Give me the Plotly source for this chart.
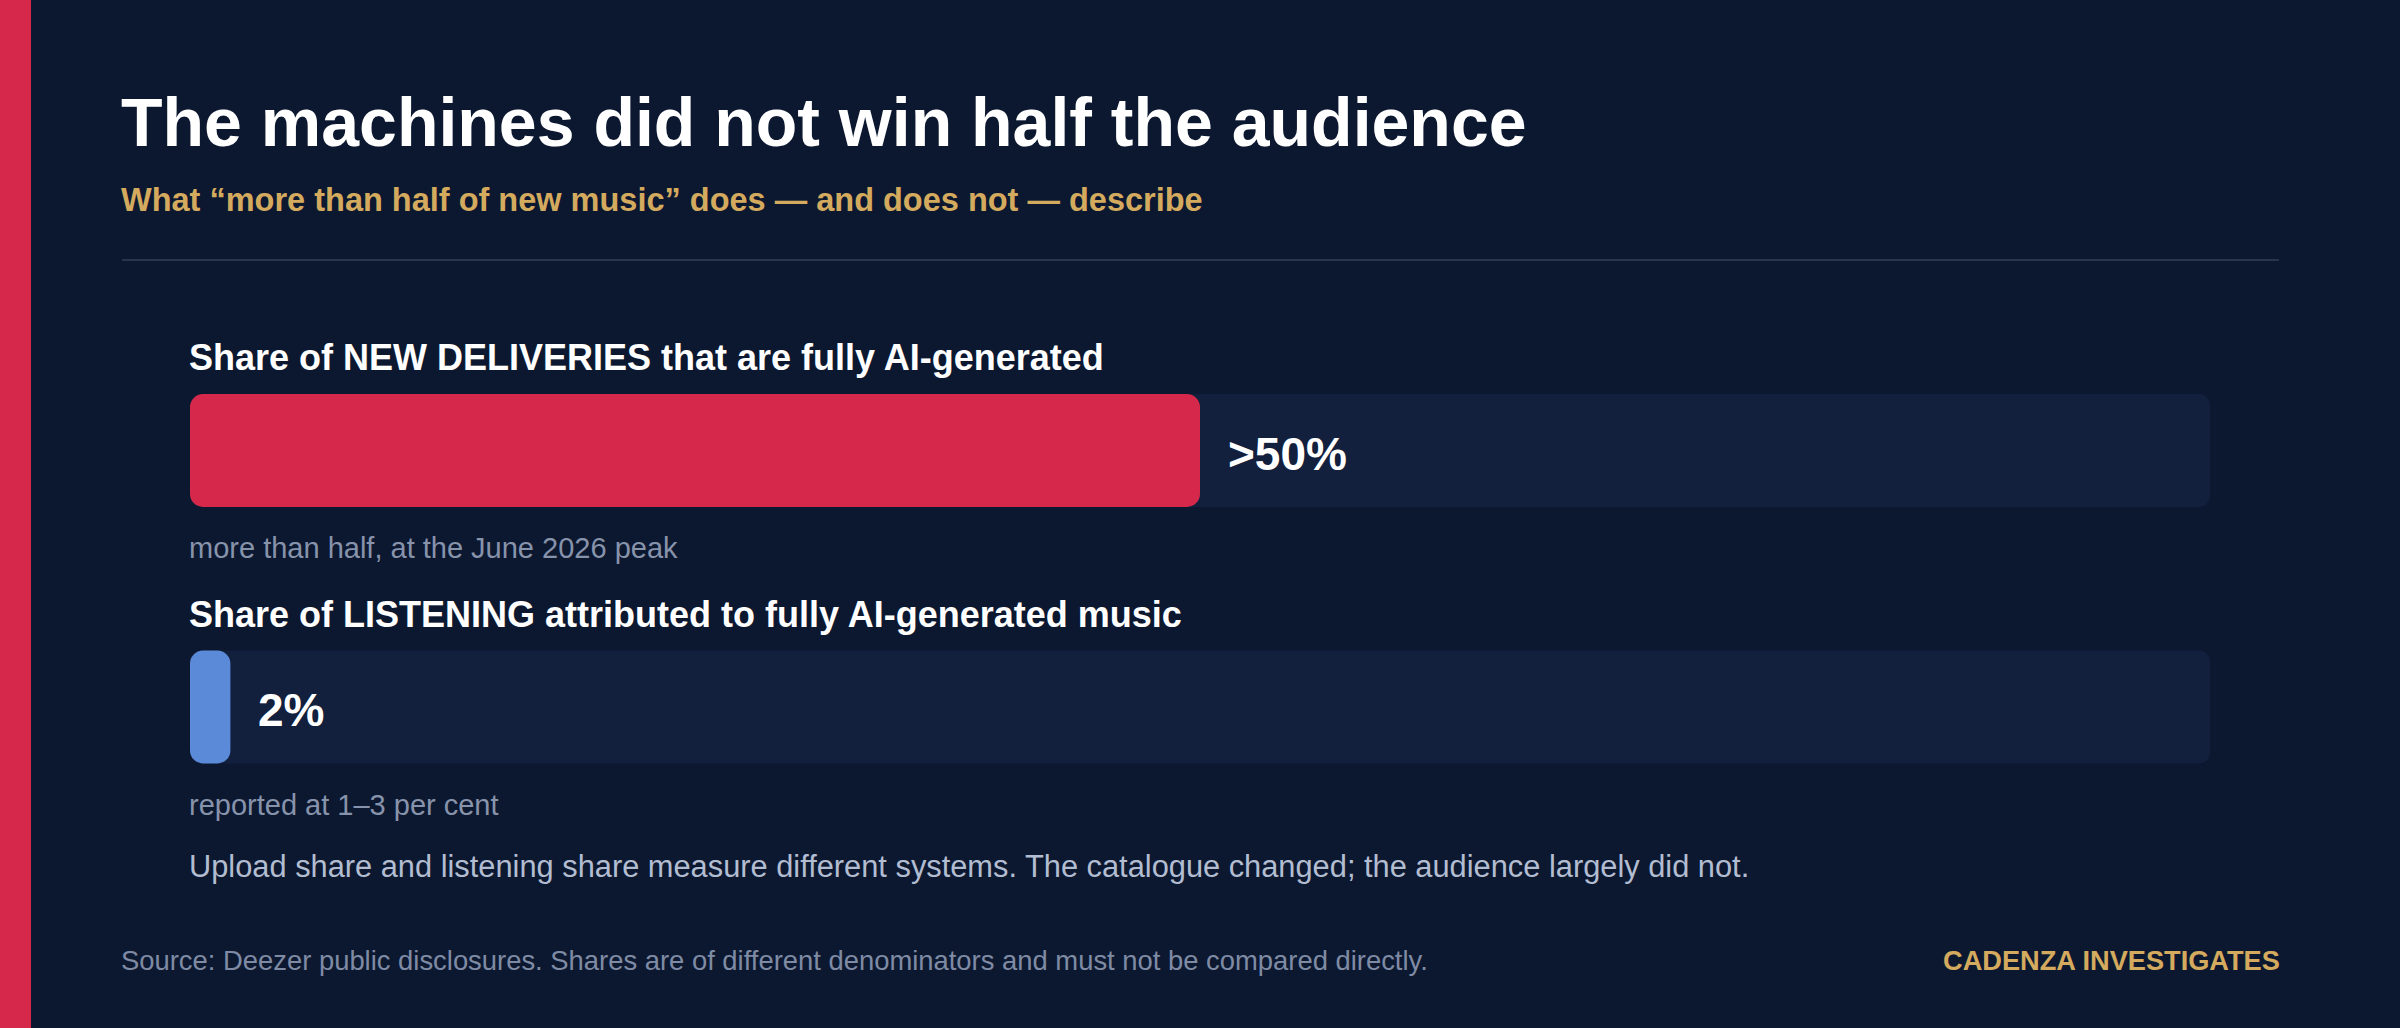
import plotly.graph_objects as go

W = 2400
H = 1028

# data
categories = ["deliveries", "listening"]
share_values = [50, 2]
track_values = [100, 100]
value_labels = [">50%", "2%"]
row_titles = [
    "Share of NEW DELIVERIES that are fully AI-generated",
    "Share of LISTENING attributed to fully AI-generated music",
]
row_notes = ["more than half, at the June 2026 peak", "reported at 1–3 per cent"]

title_text = "The machines did not win half the audience"
subtitle_text = "What “more than half of new music” does — and does not — describe"
footnote_text = ("Upload share and listening share measure different systems. "
                 "The catalogue changed; the audience largely did not.")
source_text = ("Source: Deezer public disclosures. Shares are of different "
               "denominators and must not be compared directly.")
brand_text = "CADENZA INVESTIGATES"

BG = "#0c1830"
TRACK = "#121f3d"
RED = "#d6284a"
BLUE = "#5b8bd8"
GOLD = "#d4aa5e"
GREY = "#8793ab"
LIGHT = "#b3bdd1"
FONT = "Liberation Sans, Arial, Helvetica, sans-serif"
bar_colors = [RED, BLUE]


def px_x(x):
    return x / W


def px_y(y):
    return 1 - y / H


def rounded_bar(fig, values, color, radius, yaxis):
    # an explicit base makes plotly round both ends of the bar
    fig.add_trace(go.Bar(
        x=values, base=[0] * len(values), y=categories, orientation="h",
        width=0.44, yaxis=yaxis,
        marker=dict(color=color, cornerradius=radius, line=dict(width=0)),
        hoverinfo="skip", showlegend=False,
    ))


fig = go.Figure()
rounded_bar(fig, track_values, TRACK, 11, "y")
rounded_bar(fig, share_values, bar_colors, 13, "y2")

annotations = []
# value labels next to the bars
for cat, val, lab in zip(categories, share_values, value_labels):
    annotations.append(dict(
        x=val, y=cat, xref="x", yref="y", text="<b>%s</b>" % lab,
        xanchor="left", yanchor="middle", xshift=26, yshift=-3, showarrow=False,
        font=dict(family=FONT, size=46, color="white"),
    ))


def add_text(text, x, baseline, size, color, bold=False, anchor="left"):
    if bold:
        text = "<b>%s</b>" % text
    annotations.append(dict(
        x=px_x(x), y=px_y(baseline - 0.35 * size), xref="paper", yref="paper",
        text=text, xanchor=anchor, yanchor="middle", showarrow=False,
        font=dict(family=FONT, size=size, color=color),
    ))


add_text(title_text, 119, 146, 68, "white", bold=True)
add_text(subtitle_text, 119, 211, 32.5, GOLD, bold=True)

title_baselines = [370, 627]
note_baselines = [558, 815]
for t, n, tb, nb in zip(row_titles, row_notes, title_baselines, note_baselines):
    add_text(t, 187, tb, 36, "white", bold=True)
    add_text(n, 187, nb, 29, GREY)

add_text(footnote_text, 187, 877, 30.8, LIGHT)
add_text(source_text, 119, 970, 27.4, "#7f8ba4")
add_text(brand_text, 2282, 970, 27.2, GOLD, bold=True, anchor="right")

shapes = [
    dict(type="rect", xref="paper", yref="paper", x0=0, x1=px_x(31), y0=0, y1=1,
         fillcolor=RED, line=dict(width=0), layer="below"),
    dict(type="line", xref="paper", yref="paper", x0=px_x(122), x1=px_x(2279),
         y0=px_y(260), y1=px_y(260), line=dict(color="#27354f", width=2)),
]

yax = dict(type="category", categoryarray=categories, categoryorder="array",
           range=[1.5, -0.5], visible=False, fixedrange=True)

fig.update_layout(
    width=W, height=H,
    margin=dict(l=0, r=0, t=0, b=0),
    paper_bgcolor=BG, plot_bgcolor=BG,
    barmode="overlay",
    xaxis=dict(range=[0, 100], domain=[px_x(190), px_x(2210)], visible=False,
               fixedrange=True),
    yaxis=dict(domain=[px_y(835.25), px_y(322.25)], **yax),
    yaxis2=dict(overlaying="y", **yax),
    annotations=annotations,
    shapes=shapes,
    font=dict(family=FONT),
)

fig.write_html(
    "out.html",
    config={"displayModeBar": False},
    post_script="document.body.style.margin='0';document.body.style.background='%s';" % BG,
)
